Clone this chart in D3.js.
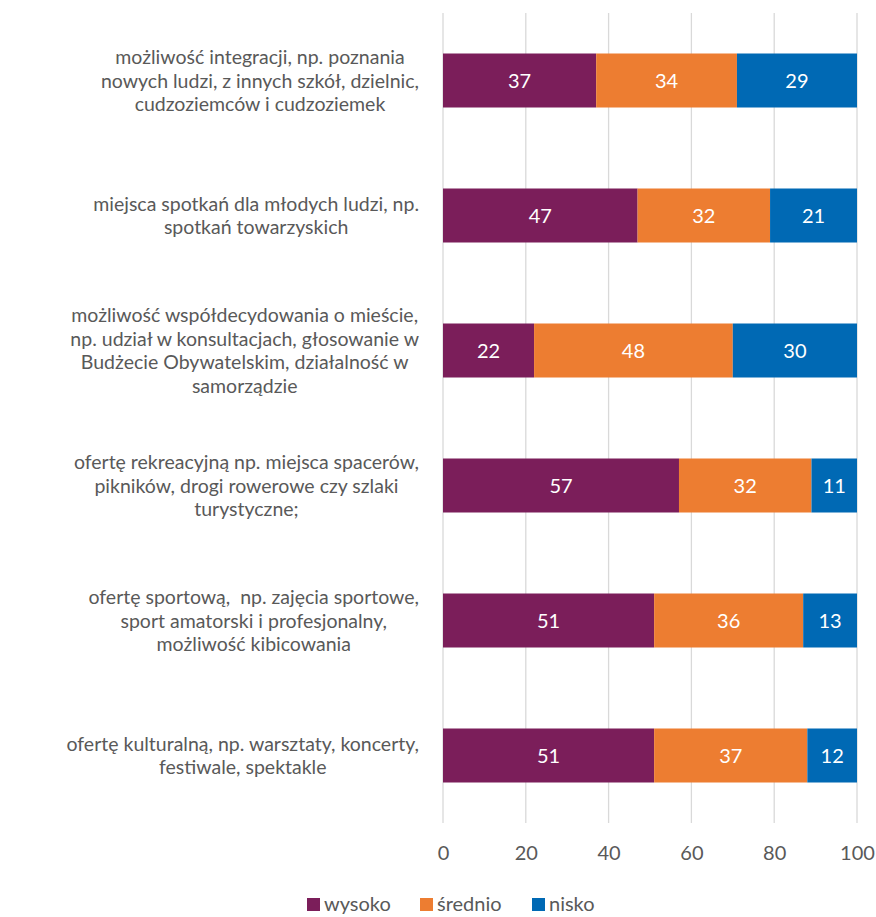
<!DOCTYPE html>
<html>
<head>
<meta charset="utf-8">
<script src="https://cdn.jsdelivr.net/npm/d3@7"></script>
<style>
  body { margin: 0; background: #fff; }
  text { font-family: Lato, "Open Sans", sans-serif; white-space: pre; }
</style>
</head>
<body>
<div id="chart"></div>
<script>
// category labels, already broken into lines as in the chart
var categories = [
  ['możliwość integracji, np. poznania', 'nowych ludzi, z innych szkół, dzielnic,', 'cudzoziemców i cudzoziemek'],
  ['miejsca spotkań dla młodych ludzi, np.', 'spotkań towarzyskich'],
  ['możliwość współdecydowania o mieście,', 'np. udział w konsultacjach, głosowanie w', 'Budżecie Obywatelskim, działalność w', 'samorządzie'],
  ['ofertę rekreacyjną np. miejsca spacerów,', 'pikników, drogi rowerowe czy szlaki', 'turystyczne;'],
  ['ofertę sportową,  np. zajęcia sportowe,', 'sport amatorski i profesjonalny,', 'możliwość kibicowania'],
  ['ofertę kulturalną, np. warsztaty, koncerty,', 'festiwale, spektakle']
];
var seriesNames = ['wysoko', 'średnio', 'nisko'];
var wysoko = [37, 47, 22, 57, 51, 51];
var srednio = [34, 32, 48, 32, 36, 37];
var nisko = [29, 21, 30, 11, 13, 12];
var ticks = [0, 20, 40, 60, 80, 100];
var colors = ['#7B1E5A', '#ED7D31', '#0069B4'];

var W = 876, H = 917;
var svg = d3.select('#chart').append('svg').attr('width', W).attr('height', H);

var x = d3.scaleLinear().domain([0, 100]).range([443, 857]);
var y = d3.scaleBand().domain(d3.range(categories.length)).range([13, 823]).paddingInner(0.6).paddingOuter(0.3);

// gridlines
svg.append('g').selectAll('line').data(ticks).enter().append('line')
  .attr('x1', function(d) { return x(d); }).attr('x2', function(d) { return x(d); })
  .attr('y1', 13).attr('y2', 823)
  .attr('stroke', '#D9D9D9').attr('stroke-width', 1.3);

// stack data
var rows = categories.map(function(c, i) {
  return { i: i, wysoko: wysoko[i], 'średnio': srednio[i], nisko: nisko[i] };
});
var stacked = d3.stack().keys(seriesNames)(rows);

var layers = svg.append('g').selectAll('g').data(stacked).enter().append('g')
  .attr('fill', function(d, k) { return colors[k]; });

layers.selectAll('rect').data(function(d) { return d; }).enter().append('rect')
  .attr('x', function(d) { return x(d[0]); })
  .attr('width', function(d) { return x(d[1]) - x(d[0]); })
  .attr('y', function(d) { return y(d.data.i); })
  .attr('height', y.bandwidth());

layers.selectAll('text').data(function(d) { return d; }).enter().append('text')
  .attr('x', function(d) { return (x(d[0]) + x(d[1])) / 2; })
  .attr('y', function(d) { return y(d.data.i) + y.bandwidth() / 2; })
  .attr('dy', '0.36em')
  .attr('text-anchor', 'middle')
  .attr('fill', '#fff')
  .style('font-size', '20px')
  .text(function(d) { return d[1] - d[0]; });

// category labels: lines centred within a block whose right edge sits near 419
var lineH = 23.5;
var labelG = svg.append('g').style('font-size', '19px');
var blocks = categories.map(function(lines, i) {
  var cy = y(i) + y.bandwidth() / 2;
  return labelG.append('g').selectAll('text').data(lines).enter().append('text')
    .attr('fill', '#595959')
    .attr('text-anchor', 'middle')
    .attr('dy', '0.36em')
    .attr('y', function(d, j) { return cy + (j - (lines.length - 1) / 2) * lineH; })
    .text(function(d) { return d; });
});
// shrink/grow so the widest line spans about 410px, as in the chart
var widest = d3.max(blocks, function(t) { return d3.max(t.nodes(), function(n) { return n.getComputedTextLength(); }); });
var fs = Math.min(19.5, 19 * 410 / widest);
labelG.style('font-size', fs + 'px');
blocks.forEach(function(t) {
  var maxW = d3.max(t.nodes(), function(n) { return n.getComputedTextLength(); });
  t.attr('x', 419 - maxW / 2);
});

// x axis labels
var axis = d3.axisBottom(x).tickValues(ticks).tickSize(0).tickPadding(0);
var ax = svg.append('g').attr('transform', 'translate(0,846)').call(axis);
ax.select('.domain').remove();
ax.selectAll('text').attr('fill', '#595959').style('font-size', '20px')
  .style('font-family', 'Lato, "Open Sans", sans-serif');

// legend
var legX = [307, 420, 532];
var leg = svg.append('g').selectAll('g').data(seriesNames).enter().append('g')
  .attr('transform', function(d, k) { return 'translate(' + legX[k] + ',904)'; });
leg.append('rect').attr('x', 0).attr('y', -6).attr('width', 13).attr('height', 13)
  .attr('fill', function(d, k) { return colors[k]; });
leg.append('text').attr('x', 17).attr('dy', '0.36em').attr('fill', '#595959')
  .style('font-size', '20px').text(function(d) { return d; });
</script>
</body>
</html>
